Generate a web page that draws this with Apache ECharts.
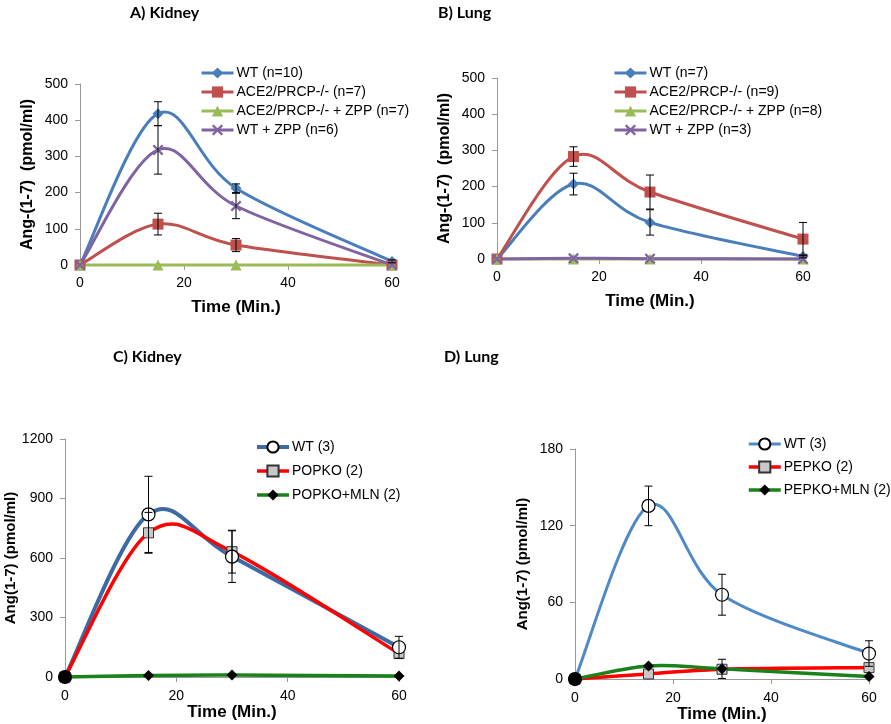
<!DOCTYPE html>
<html>
<head>
<meta charset="utf-8">
<script src="https://cdn.jsdelivr.net/npm/echarts@6/dist/echarts.min.js"></script>
<style>
html,body{margin:0;padding:0;background:#fff;}
#c{width:891px;height:724px;}
</style>
</head>
<body>
<div id="c"></div>
<script>
// ---------- data ----------
const timePoints = [0, 15, 30, 60];
const xTicks = [0, 20, 40, 60];

// Panel A: Kidney
const A_names = ['WT (n=10)', 'ACE2/PRCP-/- (n=7)', 'ACE2/PRCP-/- + ZPP (n=7)', 'WT + ZPP (n=6)'];
const A_wt = [0, 418, 212, 10];
const A_wtErr = [0, 33, 12, 4];
const A_ko = [0, 113, 55, 0];
const A_koErr = [0, 30, 18, 0];
const A_koZpp = [0, 0, 0, 0];
const A_wtZpp = [0, 318, 163, 0];
const A_wtZppErr = [0, 67, 35, 0];

// Panel B: Lung
const B_names = ['WT (n=7)', 'ACE2/PRCP-/- (n=9)', 'ACE2/PRCP-/- + ZPP (n=8)', 'WT + ZPP (n=3)'];
const B_wt = [0, 207, 101, 7];
const B_wtErr = [0, 30, 35, 4];
const B_ko = [0, 283, 185, 55];
const B_koErr = [0, 27, 47, 46];
const B_koZpp = [0, 0, 0, 0];
const B_wtZpp = [0, 2, 1, 0];

// Panel C: Kidney
const C_names = ['WT (3)', 'POPKO (2)', 'POPKO+MLN (2)'];
const C_wt = [0, 820, 607, 150];
const C_wtErr = [0, 192, 130, 55];
const C_ko = [0, 727, 632, 118];
const C_koErr = [0, 103, 108, 0];
const C_mln = [0, 8, 10, 5];

// Panel D: Lung
const D_names = ['WT (3) ', 'PEPKO (2)', 'PEPKO+MLN (2)'];
const D_wt = [0, 135.5, 66, 20];
const D_wtErr = [0, 15.5, 16, 10];
const D_ko = [0, 4, 7.7, 9];
const D_mln = [0, 10.3, 8, 2];
const D_mlnErr = [0, 0, 7.5, 0];

const yA = {min: 0, max: 500, interval: 100};
const yB = {min: 0, max: 500, interval: 100};
const yC = {min: 0, max: 1200, interval: 300};
const yD = {min: 0, max: 180, interval: 60};

// ---------- helpers ----------
const FONT = '"Liberation Sans", Arial, sans-serif';
const pts = vals => timePoints.map((t, i) => [t, vals[i]]);
const errPts = (vals, errs) => timePoints.map((t, i) => [t, vals[i] - errs[i], vals[i] + errs[i]]).filter(d => d[2] > d[1]);
const xPath = 'path://M0,1.5L1.5,0L5,3.5L8.5,0L10,1.5L6.5,5L10,8.5L8.5,10L5,6.5L1.5,10L0,8.5L3.5,5Z';

// markers (and legend entry) for a series; the line itself is drawn by curveSeries
function markerSeries(name, vals, idx, color, symbol, size, markerStyle, z) {
  return {
    type: 'line', name: name, data: pts(vals), xAxisIndex: idx, yAxisIndex: idx,
    symbol: symbol, symbolSize: size, showSymbol: true,
    lineStyle: {color: color, width: 3, opacity: 0},
    itemStyle: Object.assign({color: color}, markerStyle || {}),
    emphasis: {disabled: true}, animation: false, z: z || 3
  };
}
// spreadsheet-style smoothed line (Catmull-Rom Bezier through the data points)
function curveSeries(vals, idx, color, width, z) {
  return {
    type: 'custom', xAxisIndex: idx, yAxisIndex: idx, data: pts(vals), z: z || 2,
    animation: false, silent: true,
    renderItem: function (params, api) {
      const i = params.dataIndex;
      if (i >= vals.length - 1) return null;
      const P = timePoints.map((t, k) => api.coord([t, vals[k]]));
      const p0 = P[Math.max(i - 1, 0)], p1 = P[i], p2 = P[i + 1], p3 = P[Math.min(i + 2, P.length - 1)];
      return {
        type: 'bezierCurve',
        shape: {
          x1: p1[0], y1: p1[1], x2: p2[0], y2: p2[1],
          cpx1: p1[0] + (p2[0] - p0[0]) / 6, cpy1: p1[1] + (p2[1] - p0[1]) / 6,
          cpx2: p2[0] - (p3[0] - p1[0]) / 6, cpy2: p2[1] - (p3[1] - p1[1]) / 6
        },
        style: {stroke: color, lineWidth: width, fill: 'none', lineCap: 'round'}
      };
    }
  };
}
function errSeries(vals, errs, idx) {
  return {
    type: 'custom', xAxisIndex: idx, yAxisIndex: idx, data: errPts(vals, errs), z: 4,
    animation: false, silent: true,
    renderItem: function (params, api) {
      const x = api.value(0);
      const lo = api.coord([x, api.value(1)]);
      const hi = api.coord([x, api.value(2)]);
      const w = 4;
      const st = {stroke: '#000', lineWidth: 1};
      return {type: 'group', children: [
        {type: 'line', shape: {x1: lo[0], y1: lo[1], x2: hi[0], y2: hi[1]}, style: st},
        {type: 'line', shape: {x1: lo[0] - w, y1: lo[1], x2: lo[0] + w, y2: lo[1]}, style: st},
        {type: 'line', shape: {x1: hi[0] - w, y1: hi[1], x2: hi[0] + w, y2: hi[1]}, style: st}
      ]};
    }
  };
}
function xAxis(idx, nameGap, nameSize, labelMargin) {
  return {
    type: 'value', gridIndex: idx, min: 0, max: 60, interval: 20,
    name: 'Time (Min.)', nameLocation: 'middle', nameGap: nameGap,
    nameTextStyle: {fontFamily: FONT, fontWeight: 'bold', fontSize: nameSize, color: '#000'},
    axisLine: {lineStyle: {color: '#9a9a9a', width: 1}},
    axisTick: {show: true, inside: false, length: 5, lineStyle: {color: '#9a9a9a'}},
    axisLabel: {fontFamily: FONT, fontSize: 14, color: '#000', margin: labelMargin,
      formatter: v => xTicks.includes(v) ? String(v) : ''},
    splitLine: {show: false}
  };
}
function yAxis(idx, rng, name, nameGap, nameSize) {
  return {
    type: 'value', gridIndex: idx, min: rng.min, max: rng.max, interval: rng.interval,
    name: name, nameLocation: 'middle', nameGap: nameGap, nameRotate: 90,
    nameTextStyle: {fontFamily: FONT, fontWeight: 'bold', fontSize: nameSize, color: '#000'},
    axisLine: {show: true, lineStyle: {color: '#9a9a9a', width: 1}},
    axisTick: {show: true, inside: false, length: 5, lineStyle: {color: '#9a9a9a'}},
    axisLabel: {fontFamily: FONT, fontSize: 14, color: '#000', margin: 12, formatter: v => String(v)},
    splitLine: {show: false}
  };
}
function legend(names, colors, widths, left, top, gap) {
  return {
    data: names.map((n, i) => ({name: n, lineStyle: {color: colors[i], width: widths[i], opacity: 1}})),
    orient: 'vertical', left: left, top: top, itemWidth: 32, itemHeight: 14,
    itemGap: gap, selectedMode: false, padding: 0,
    formatter: n => n.trim(),
    textStyle: {fontFamily: FONT, fontSize: 14, color: '#000', padding: [0, 0, 0, -2]}
  };
}

// colors
const BLUE = '#4a7ebb', RED = '#c0504d', GREEN = '#9bbb59', PURPLE = '#8064a2';
const C_BLUE = '#3d6aa3', D_BLUE = '#4f8ac8', BRIGHT_RED = '#ff0000', DGREEN = '#1a821a';
const circleStyle = {color: '#fff', borderColor: '#000', borderWidth: 1.2};
const squareStyle = {color: '#c8c8c8', borderColor: '#333', borderWidth: 1};
const blackStyle = {color: '#000', borderColor: '#000', borderWidth: 0};

const titleStyle = {fontFamily: 'Lato, "Open Sans", sans-serif', fontWeight: 'bold', fontSize: 16, color: '#000'};

const option = {
  backgroundColor: '#fff',
  animation: false,
  title: [
    {text: 'A) Kidney', left: 130, top: 5, padding: 0, textStyle: titleStyle},
    {text: 'B) Lung', left: 438, top: 5, padding: 0, textStyle: titleStyle},
    {text: 'C) Kidney', left: 113, top: 349, padding: 0, textStyle: titleStyle},
    {text: 'D) Lung', left: 444, top: 349, padding: 0, textStyle: titleStyle}
  ],
  grid: [
    {left: 80, right: 499, top: 84, bottom: 459},
    {left: 497, right: 88, top: 78, bottom: 465},
    {left: 65, right: 492, top: 439, bottom: 47},
    {left: 575, right: 22, top: 449, bottom: 42}
  ],
  xAxis: [xAxis(0, 34, 17, 11), xAxis(1, 34, 17, 11), xAxis(2, 27, 17, 12), xAxis(3, 21, 17, 12)],
  yAxis: [
    yAxis(0, yA, 'Ang-(1-7)  (pmol/ml)', 44, 16),
    yAxis(1, yB, 'Ang-(1-7)  (pmol/ml)', 44, 16),
    yAxis(2, yC, 'Ang(1-7) (pmol/ml)', 43, 15),
    yAxis(3, yD, 'Ang(1-7) (pmol/ml)', 45, 15)
  ],
  legend: [
    legend(A_names, [BLUE, RED, GREEN, PURPLE], [3, 3, 3, 3], 200, 66, 5),
    legend(B_names, [BLUE, RED, GREEN, PURPLE], [3, 3, 3, 3], 613, 66, 5),
    legend(C_names, [C_BLUE, BRIGHT_RED, DGREEN], [4, 3.5, 3.5], 255, 440, 10),
    legend(D_names, [D_BLUE, BRIGHT_RED, DGREEN], [3, 3.5, 3.5], 747, 437, 9)
  ],
  series: [
    // A
    curveSeries(A_wt, 0, BLUE, 3, 2.1), curveSeries(A_ko, 0, RED, 3, 2.2),
    curveSeries(A_koZpp, 0, GREEN, 3, 2.3), curveSeries(A_wtZpp, 0, PURPLE, 3, 2.4),
    markerSeries(A_names[0], A_wt, 0, BLUE, 'diamond', 11),
    markerSeries(A_names[1], A_ko, 0, RED, 'rect', 11),
    markerSeries(A_names[2], A_koZpp, 0, GREEN, 'triangle', 11),
    markerSeries(A_names[3], A_wtZpp, 0, PURPLE, xPath, 11),
    errSeries(A_wt, A_wtErr, 0), errSeries(A_wtZpp, A_wtZppErr, 0), errSeries(A_ko, A_koErr, 0),
    // B
    curveSeries(B_wt, 1, BLUE, 3, 2.1), curveSeries(B_ko, 1, RED, 3, 2.2),
    curveSeries(B_koZpp, 1, GREEN, 3, 2.3), curveSeries(B_wtZpp, 1, PURPLE, 3, 2.4),
    markerSeries(B_names[0], B_wt, 1, BLUE, 'diamond', 11),
    markerSeries(B_names[1], B_ko, 1, RED, 'rect', 11),
    markerSeries(B_names[2], B_koZpp, 1, GREEN, 'triangle', 11),
    markerSeries(B_names[3], B_wtZpp, 1, PURPLE, xPath, 11),
    errSeries(B_wt, B_wtErr, 1), errSeries(B_ko, B_koErr, 1),
    // C
    curveSeries(C_wt, 2, C_BLUE, 4, 2.1), curveSeries(C_ko, 2, BRIGHT_RED, 3.5, 2.2),
    curveSeries(C_mln, 2, DGREEN, 3.5, 2.3),
    markerSeries(C_names[0], C_wt, 2, C_BLUE, 'circle', 13, circleStyle, 3),
    markerSeries(C_names[1], C_ko, 2, BRIGHT_RED, 'rect', 10, squareStyle, 3.1),
    markerSeries(C_names[2], C_mln, 2, DGREEN, 'diamond', 11, blackStyle, 3.2),
    errSeries(C_wt, C_wtErr, 2), errSeries(C_ko, C_koErr, 2),
    // D
    curveSeries(D_wt, 3, D_BLUE, 3, 2.1), curveSeries(D_ko, 3, BRIGHT_RED, 3.5, 2.2),
    curveSeries(D_mln, 3, DGREEN, 3.5, 2.3),
    markerSeries(D_names[0], D_wt, 3, D_BLUE, 'circle', 13, circleStyle, 3),
    markerSeries(D_names[1], D_ko, 3, BRIGHT_RED, 'rect', 10, squareStyle, 3.1),
    markerSeries(D_names[2], D_mln, 3, DGREEN, 'diamond', 11, blackStyle, 3.2),
    errSeries(D_wt, D_wtErr, 3), errSeries(D_mln, D_mlnErr, 3)
  ]
};

// origin markers in C and D are drawn as solid black dots
['WT (3)', 'WT (3) '].forEach(function (nm) {
  const s = option.series.find(x => x.name === nm);
  s.data = s.data.map((d, i) => i === 0 ? {value: d, itemStyle: {color: '#000', borderColor: '#000'}} : d);
  s.z = 3.5;
});

const chart = echarts.init(document.getElementById('c'), null, {renderer: 'canvas'});
chart.setOption(option);
</script>
</body>
</html>
